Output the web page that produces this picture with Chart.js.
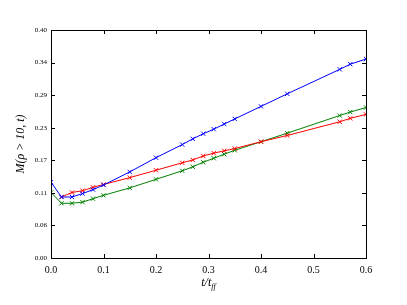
<!DOCTYPE html>
<html>
<head>
<meta charset="utf-8">
<script src="https://cdn.jsdelivr.net/npm/chart.js@4"></script>
<style>
  html, body { margin: 0; padding: 0; background: #fff; }
  #wrap { width: 407px; height: 305px; position: relative; }
</style>
</head>
<body>
<div id="wrap"><canvas id="grafico"></canvas></div>
<script>
  /* ── data ── */
  const tempos = [0, 0.02, 0.04, 0.06, 0.08, 0.1, 0.15, 0.2, 0.25, 0.27, 0.29, 0.31, 0.33, 0.35, 0.4, 0.45, 0.55, 0.57, 0.6];
  const serieAzul = [0.133, 0.107, 0.107, 0.113, 0.120, 0.128, 0.151, 0.176, 0.199, 0.209, 0.218, 0.226, 0.235, 0.244, 0.266, 0.288, 0.331, 0.340, 0.349];
  const serieVermelha = [null, 0.107, 0.115, 0.118, 0.124, 0.129, 0.141, 0.154, 0.167, 0.172, 0.179, 0.184, 0.188, 0.192, 0.204, 0.215, 0.239, 0.245, 0.252];
  const serieVerde = [0.115, 0.096, 0.096, 0.098, 0.104, 0.110, 0.123, 0.138, 0.153, 0.160, 0.168, 0.175, 0.182, 0.189, 0.204, 0.219, 0.250, 0.256, 0.264];
  const xTicks = [0, 0.1, 0.2, 0.3, 0.4, 0.5, 0.6];
  const xTickLabels = ['0.0', '0.1', '0.2', '0.3', '0.4', '0.5', '0.6'];
  const yTickLabels = ['0.00', '0.06', '0.11', '0.17', '0.23', '0.29', '0.34', '0.40'];
  const yMax = 0.4;

  const fonteSerif = '"Liberation Serif", "DejaVu Serif", serif';

  function pontos(ys) {
    return tempos.map((t, i) => ({ x: t, y: ys[i] })).filter(p => p.y !== null);
  }

  function serie(ys, cor) {
    return {
      data: pontos(ys),
      borderColor: cor,
      backgroundColor: cor,
      borderWidth: 1,
      pointStyle: 'crossRot',
      pointRadius: 3,
      pointBorderWidth: 1,
      tension: 0
    };
  }

  /* ── moldura com ticks para dentro (estilo matplotlib) ── */
  const moldura = {
    id: 'moldura',
    afterDraw(chart) {
      const { ctx, chartArea: { top, bottom, left, right } } = chart;
      const sx = chart.scales.x, sy = chart.scales.y;
      ctx.save();
      ctx.strokeStyle = '#000';
      ctx.lineWidth = 1;
      ctx.strokeRect(left + 0.5, top + 0.5, right - left, bottom - top);
      ctx.beginPath();
      sx.ticks.forEach(t => {
        const px = Math.round(sx.getPixelForValue(t.value)) + 0.5;
        ctx.moveTo(px, bottom); ctx.lineTo(px, bottom - 4);
        ctx.moveTo(px, top); ctx.lineTo(px, top + 4);
      });
      sy.ticks.forEach(t => {
        const py = Math.round(sy.getPixelForValue(t.value)) + 0.5;
        ctx.moveTo(left, py); ctx.lineTo(left + 4, py);
        ctx.moveTo(right, py); ctx.lineTo(right - 4, py);
      });
      ctx.stroke();

      // rótulo eixo x: t/t_ff
      ctx.fillStyle = '#000';
      ctx.textBaseline = 'alphabetic';
      const cx = (left + right) / 2;
      ctx.font = 'italic 12px ' + fonteSerif;
      const w1 = ctx.measureText('t/t').width;
      ctx.font = 'italic 8px ' + fonteSerif;
      const w2 = ctx.measureText('ff').width;
      let x0 = cx - (w1 + w2) / 2;
      ctx.textAlign = 'left';
      ctx.font = 'italic 12px ' + fonteSerif;
      ctx.fillText('t/t', x0, 286);
      ctx.font = 'italic 8px ' + fonteSerif;
      ctx.fillText('ff', x0 + w1, 289);

      // rótulo eixo y
      ctx.translate(24, (top + bottom) / 2);
      ctx.rotate(-Math.PI / 2);
      ctx.textAlign = 'center';
      ctx.font = 'italic 12px ' + fonteSerif;
      ctx.fillText('M(ρ > 10, t)', 0, 0);
      ctx.restore();
    }
  };

  new Chart(document.getElementById('grafico'), {
    type: 'line',
    data: {
      datasets: [
        serie(serieAzul, '#0000ff'),
        serie(serieVermelha, '#ff0000'),
        serie(serieVerde, '#008000')
      ]
    },
    options: {
      responsive: true,
      maintainAspectRatio: false,
      animation: false,
      layout: { padding: { top: 30, right: 41, left: 0, bottom: 0 } },
      plugins: {
        legend: { display: false },
        tooltip: { enabled: false }
      },
      scales: {
        x: {
          type: 'linear',
          min: 0, max: 0.6,
          afterBuildTicks(scale) { scale.ticks = xTicks.map(v => ({ value: v })); },
          afterFit(scale) { scale.height = 47; },
          grid: { display: false, drawTicks: false },
          border: { display: false },
          ticks: {
            color: '#000',
            padding: 6,
            maxRotation: 0,
            font: { family: fonteSerif, size: 10 },
            callback: (v, i) => xTickLabels[i]
          }
        },
        y: {
          type: 'linear',
          min: 0, max: yMax,
          afterBuildTicks(scale) {
            scale.ticks = yTickLabels.map((_, i) => ({ value: i * yMax / (yTickLabels.length - 1) }));
          },
          afterFit(scale) { scale.width = 51; },
          grid: { display: false, drawTicks: false },
          border: { display: false },
          ticks: {
            color: '#000',
            padding: 4,
            font: { family: fonteSerif, size: 7 },
            callback: (v, i) => yTickLabels[i]
          }
        }
      }
    },
    plugins: [moldura]
  });
</script>
</body>
</html>
